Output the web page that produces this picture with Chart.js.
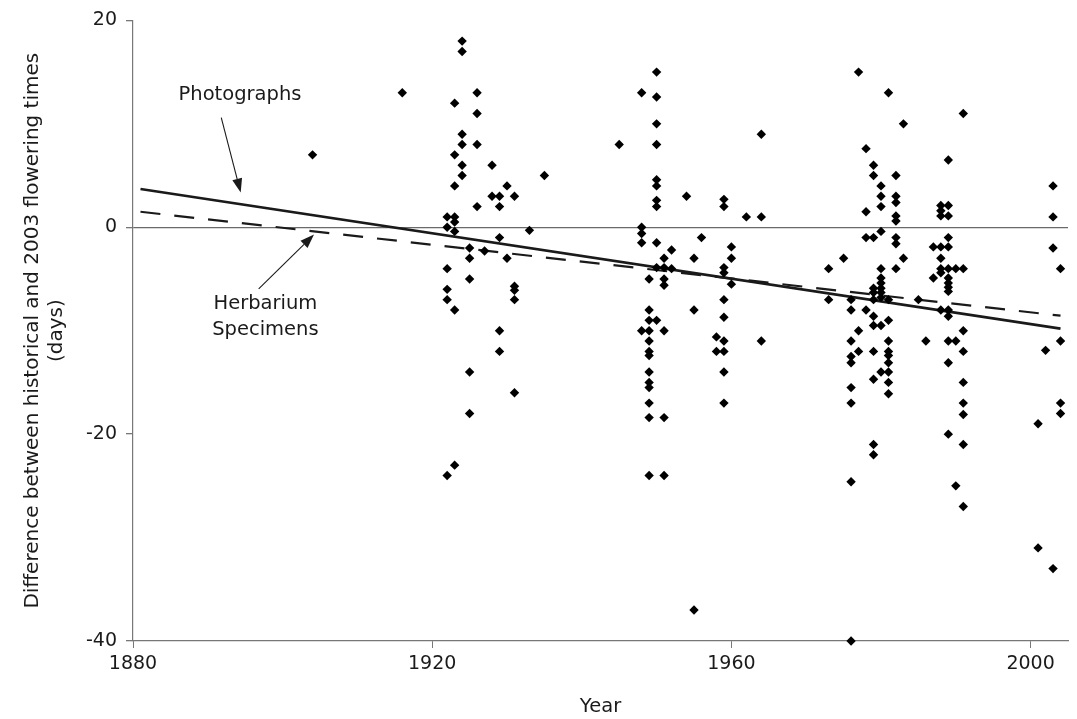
<!DOCTYPE html>
<html>
<head>
<meta charset="utf-8">
<script src="https://cdn.jsdelivr.net/npm/chart.js@4/dist/chart.umd.min.js"></script>
<style>
  html, body { margin: 0; padding: 0; background: #fff; }
  #c { display: block; }
</style>
</head>
<body>
<canvas id="c" width="1077" height="719"></canvas>
<script>
// Sampling years and, for each year, the differences (days) between the
// historical and the 2003 flowering times.
const sampleYears = [
  1904, 1916, 1922, 1923, 1924, 1925, 1926, 1927, 1928, 1929, 1930, 1931, 1933, 1935,
  1945, 1948, 1949, 1950, 1951, 1952, 1954, 1955, 1956, 1958, 1959, 1960, 1962, 1964,
  1973, 1975, 1976, 1977, 1978, 1979, 1980, 1981, 1982, 1983, 1985, 1986, 1987, 1988,
  1989, 1990, 1991, 2001, 2002, 2003, 2004
];
const sampleDiffs = [
  [7],
  [13],
  [1, 0, -4, -6, -7, -24],
  [12, 7, 4, 1, 0.5, -0.4, -8, -23],
  [18, 17, 9, 8, 6, 5],
  [-2, -3, -5, -14, -18],
  [13, 11, 8, 2],
  [-2.3],
  [6, 3],
  [3, 2, -1, -10, -12],
  [4, -3],
  [3, -5.7, -6.1, -7, -16],
  [-0.3],
  [5],
  [8],
  [13, 0, -0.6, -1.5, -10],
  [-5, -8, -9, -10, -11, -12, -12.4, -14, -15, -15.5, -17, -18.4, -24],
  [15, 12.6, 10, 8, 4.6, 4, 2.6, 2, -1.5, -3.9, -9],
  [-3, -3.9, -5, -5.6, -10, -18.4, -24],
  [-2.2, -4],
  [3],
  [-3, -8, -37],
  [-1],
  [-10.6, -12],
  [2.7, 2, -3.9, -4.4, -7, -8.7, -11, -12, -14, -17],
  [-1.9, -3, -5.5],
  [1],
  [9, 1, -11],
  [-4, -7],
  [-3],
  [-7, -8, -11, -12.5, -13.1, -15.5, -17, -24.6, -40],
  [15, -10, -12],
  [7.6, 1.5, -1, -8],
  [6, 5, -1, -5.9, -6.3, -7, -8.6, -9.5, -12, -14.7, -21, -22],
  [4, 3, 2, -0.4, -4, -4.9, -5.4, -5.9, -6.3, -6.8, -9.5, -14],
  [13, -7, -9, -11, -12, -12.4, -13.1, -14, -15, -16.1],
  [5, 3, 2.4, 1.1, 0.6, -1, -1.6, -4],
  [10, -3],
  [-7],
  [-11],
  [-1.9, -4.9],
  [2.1, 1.6, 1.1, -1.9, -3, -4, -4.4, -8],
  [6.5, 2.1, 1.1, -1, -1.9, -4, -4.9, -5.4, -5.8, -6.2, -8, -8.6, -11, -13.1, -20],
  [-4, -11, -25],
  [11, -4, -10, -12, -15, -17, -18.1, -21, -27],
  [-19, -31],
  [-11.9],
  [4, 1, -2, -33],
  [-4, -11, -17, -18]
];

// Fitted trend lines (end points)
const photoFitYears = [1881, 2004];
const photoFitDays  = [3.7, -9.8];
const herbFitYears  = [1881, 2004];
const herbFitDays   = [1.5, -8.55];

// Axis ticks
const xTickValues = [1880, 1920, 1960, 2000];
const yTickValues = [-40, -20, 0, 20];

const FONT = "'DejaVu Sans', Verdana, sans-serif";
const INK = '#1a1a1a';
const AXIS = '#777';

const scatterPoints = sampleYears.flatMap((yr, i) => sampleDiffs[i].map(d => ({ x: yr, y: d })));
const toLine = (xs, ys) => xs.map((x, i) => ({ x, y: ys[i] }));

// Callout labels with arrows, placed in data coordinates
const callouts = [
  { lines: ['Photographs'], at: [1894.3, 12.75], from: [1891.8, 10.6], to: [1894.4, 3.35] },
  { lines: ['Herbarium', 'Specimens'], at: [1897.7, -7.4], from: [1896.8, -5.95], to: [1904.2, -0.7] }
];

const calloutPlugin = {
  id: 'callouts',
  afterDatasetsDraw(chart) {
    const { ctx, scales: { x, y } } = chart;
    ctx.save();
    ctx.fillStyle = INK;
    ctx.strokeStyle = INK;
    ctx.font = '19.5px ' + FONT;
    ctx.textAlign = 'center';
    ctx.textBaseline = 'middle';
    callouts.forEach(c => {
      const tx = x.getPixelForValue(c.at[0]);
      const ty = y.getPixelForValue(c.at[1]);
      c.lines.forEach((t, i) => ctx.fillText(t, tx, ty + i * 26));

      const x0 = x.getPixelForValue(c.from[0]), y0 = y.getPixelForValue(c.from[1]);
      const x1 = x.getPixelForValue(c.to[0]),   y1 = y.getPixelForValue(c.to[1]);
      const ang = Math.atan2(y1 - y0, x1 - x0);
      const headLen = 14, headHalf = 5;
      const bx = x1 - headLen * Math.cos(ang), by = y1 - headLen * Math.sin(ang);
      ctx.lineWidth = 1.1;
      ctx.beginPath();
      ctx.moveTo(x0, y0);
      ctx.lineTo(bx, by);
      ctx.stroke();
      ctx.beginPath();
      ctx.moveTo(x1, y1);
      ctx.lineTo(bx + headHalf * Math.sin(ang), by - headHalf * Math.cos(ang));
      ctx.lineTo(bx - headHalf * Math.sin(ang), by + headHalf * Math.cos(ang));
      ctx.closePath();
      ctx.fill();
    });
    ctx.restore();
  }
};

new Chart(document.getElementById('c'), {
  type: 'scatter',
  data: {
    datasets: [
      {
        label: 'Photographs fit',
        type: 'line',
        data: toLine(photoFitYears, photoFitDays),
        borderColor: INK,
        borderWidth: 2.6,
        pointRadius: 0,
        fill: false,
        order: 2
      },
      {
        label: 'Herbarium fit',
        type: 'line',
        data: toLine(herbFitYears, herbFitDays),
        borderColor: INK,
        borderWidth: 2.2,
        borderDash: [20, 14],
        pointRadius: 0,
        fill: false,
        order: 3
      },
      {
        label: 'Observations',
        data: scatterPoints,
        pointStyle: 'rectRot',
        pointRadius: 4.7,
        backgroundColor: '#000',
        borderColor: '#000',
        borderWidth: 0,
        clip: false,
        order: 1
      }
    ]
  },
  options: {
    responsive: false,
    animation: false,
    layout: { padding: { top: 19, right: 9, bottom: 0, left: 0 } },
    plugins: {
      legend: { display: false },
      tooltip: { enabled: false }
    },
    scales: {
      x: {
        type: 'linear',
        min: 1880,
        max: 2005,
        afterBuildTicks: s => { s.ticks = xTickValues.map(v => ({ value: v })); },
        afterFit: s => { s.height = 78; },
        border: { display: true, color: AXIS, width: 1.2 },
        grid: { drawOnChartArea: false, drawTicks: true, tickLength: 7, tickColor: AXIS, tickWidth: 1 },
        ticks: {
          color: INK,
          font: { family: FONT, size: 19 },
          padding: 5,
          maxRotation: 0,
          callback: v => String(v)
        },
        title: {
          display: true,
          text: 'Year',
          color: INK,
          font: { family: FONT, size: 19.5, lineHeight: '24px' },
          padding: { top: 0, bottom: 0 }
        }
      },
      y: {
        type: 'linear',
        min: -40,
        max: 20,
        afterBuildTicks: s => { s.ticks = yTickValues.map(v => ({ value: v })); },
        afterFit: s => { s.width = 133; },
        border: { display: true, color: AXIS, width: 1.2 },
        grid: {
          drawOnChartArea: true,
          color: c => (c.tick && c.tick.value === 0 ? '#6a6a6a' : 'rgba(0,0,0,0)'),
          lineWidth: 1.3,
          drawTicks: true,
          tickLength: 7,
          tickColor: AXIS
        },
        ticks: {
          color: INK,
          font: { family: FONT, size: 19 },
          padding: 9,
          callback: v => String(v)
        },
        title: {
          display: true,
          text: ['Difference between historical and 2003 flowering times', '(days)'],
          color: INK,
          font: { family: FONT, size: 20, lineHeight: '24px' },
          padding: { top: 21, bottom: 0 }
        }
      }
    }
  },
  plugins: [calloutPlugin]
});
</script>
</body>
</html>
